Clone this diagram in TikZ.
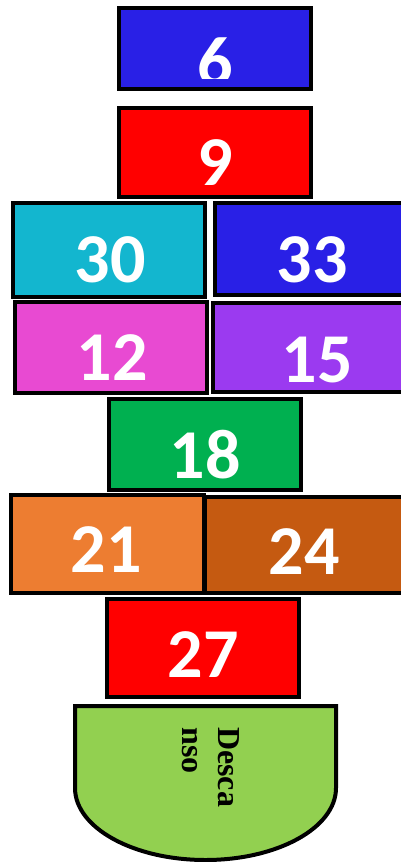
\documentclass[tikz,border=0pt]{standalone}
\usepackage{fontspec}
\usepackage{tikz}
\usepackage{xcolor}
\newfontfamily\numfont{Carlito}[BoldFont={Carlito Bold}]
\newfontfamily\restfont{Liberation Serif}
\definecolor{hsblue}{RGB}{41,32,230}
\definecolor{hsred}{RGB}{255,0,0}
\definecolor{hscyan}{RGB}{19,182,207}
\definecolor{hspink}{RGB}{232,74,210}
\definecolor{hspurple}{RGB}{155,58,240}
\definecolor{hsgreen}{RGB}{0,176,80}
\definecolor{hsorange}{RGB}{237,125,49}
\definecolor{hsbrown}{RGB}{197,90,17}
\definecolor{hslime}{RGB}{146,208,80}

\begin{document}
\begin{tikzpicture}[x=1pt,y=1pt,
  tile/.style={draw=black,line width=4pt,anchor=north west,inner sep=0pt,minimum width=192pt},
  num/.style={text=white,inner sep=0pt,anchor=base,font=\numfont\bfseries\fontsize{70}{70}\selectfont},
  rest/.style={inner sep=0pt,anchor=base west,rotate=-90,font=\restfont\bfseries\fontsize{32}{36}\selectfont}]
  \useasboundingbox (0,0) rectangle (401,-862);
  % squares, top to bottom (anchors at outer corners)
  \node[tile,fill=hsblue,minimum height=81pt] (b6) at (117,-6) {};
  \node[tile,fill=hsred,minimum height=89pt] (b9) at (117,-106) {};
  \node[tile,fill=hscyan,minimum height=94pt] (b30) at (11,-201) {};
  \node[tile,fill=hsblue,minimum height=92pt] (b33) at (213,-201) {};
  \node[tile,fill=hspink,minimum height=91pt] (b12) at (13,-300) {};
  \node[tile,fill=hspurple,minimum height=89pt] (b15) at (211,-301) {};
  \node[tile,fill=hsgreen,minimum height=91pt] (b18) at (107,-397) {};
  \node[tile,fill=hsorange,minimum height=98pt,minimum width=193pt] (b21) at (9,-493) {};
  \node[tile,fill=hsbrown,minimum height=96pt,minimum width=198pt] (b24) at (203,-495) {};
  \node[tile,fill=hsred,minimum height=98pt] (b27) at (105,-597) {};
  % rest area
  \draw[fill=hslime,line width=4pt] (75,-706) -- (75,-788)
    arc[start angle=180,end angle=360,x radius=130.5,y radius=72] -- (336,-706) -- cycle;
  % numbers
  \begin{scope}
    \clip (117,-6) rectangle (311,-78);
    \node[num] (t6) at (215,-85) {6};
  \end{scope}
  \node[num] (t9) at (215,-185) {9};
  \node[num] (t30) at (110,-282) {30};
  \node[num] (t33) at (312,-282) {33};
  \node[num] (t12) at (112,-380) {12};
  \node[num] (t15) at (317,-382) {15};
  \node[num] (t18) at (205,-478) {18};
  \node[num] (t21) at (106,-572) {21};
  \node[num] (t24) at (304,-574) {24};
  \node[num] (t27) at (203,-677) {27};
  \node[rest] (desca) at (218,-727) {Desca};
  \node[rest] (nso) at (182,-727) {nso};
\end{tikzpicture}
\end{document}
